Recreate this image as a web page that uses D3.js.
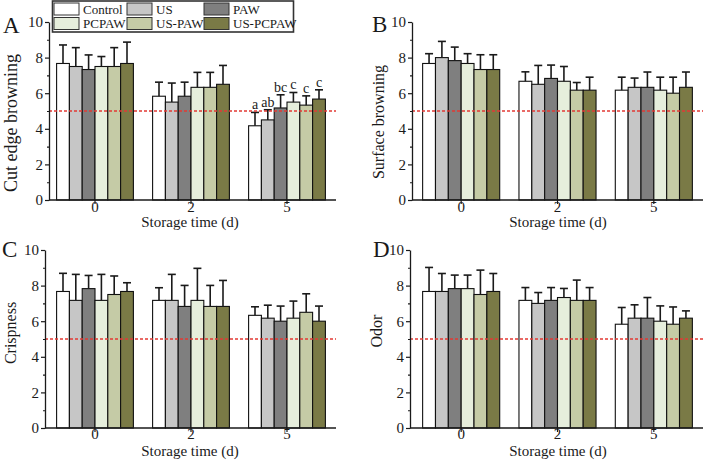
<!DOCTYPE html>
<html><head><meta charset="utf-8">
<script src="https://cdn.jsdelivr.net/npm/d3@7"></script>
<style>
body{margin:0;background:#fff}
svg{display:block}
svg text{font-family:"Liberation Serif","Times New Roman",serif !important;fill:#1a1a1a}
</style>
</head><body>
<svg id="chart" width="704" height="462"></svg>
<script>
// ---------- data ----------
const days = ["0", "2", "5"];
const treatments = ["Control", "US", "PAW", "PCPAW", "US-PAW", "US-PCPAW"];
const treatmentColors = ["#ffffff", "#c6c6c6", "#7f7f7f", "#e6eedc", "#c5cba6", "#7a7a46"];
const yTicks = [0, 2, 4, 6, 8, 10];
const yMinorTicks = [1, 3, 5, 7, 9];
const thresholdValue = 5;

// rows = storage day, columns = treatment
const cutEdgeMean = [
  [7.67, 7.50, 7.33, 7.50, 7.50, 7.67],
  [5.83, 5.50, 5.83, 6.33, 6.33, 6.50],
  [4.17, 4.50, 5.17, 5.50, 5.33, 5.67]
];
const cutEdgeSD = [
  [1.04, 1.06, 0.82, 0.56, 1.06, 1.20],
  [0.79, 1.07, 0.79, 0.84, 0.84, 1.06],
  [0.75, 0.57, 0.74, 0.54, 0.52, 0.52]
];
const cutEdgeLetters = [
  ["", "", "", "", "", ""],
  ["", "", "", "", "", ""],
  ["a", "ab", "bc", "c", "c", "c"]
];

const surfaceMean = [
  [7.67, 8.00, 7.83, 7.67, 7.33, 7.33],
  [6.67, 6.50, 6.83, 6.67, 6.17, 6.17],
  [6.17, 6.33, 6.33, 6.17, 6.00, 6.33]
];
const surfaceSD = [
  [0.55, 0.91, 0.76, 0.55, 0.83, 0.83],
  [0.53, 1.06, 0.75, 0.83, 0.43, 0.73],
  [0.73, 0.52, 0.86, 0.73, 0.90, 0.86]
];

const crispMean = [
  [7.67, 7.17, 7.83, 7.17, 7.50, 7.67],
  [7.17, 7.17, 6.83, 7.17, 6.83, 6.83],
  [6.33, 6.17, 6.00, 6.17, 6.50, 6.00]
];
const crispSD = [
  [1.02, 1.46, 0.74, 1.46, 1.04, 0.49],
  [0.71, 1.46, 1.18, 1.80, 1.18, 1.46],
  [0.48, 0.73, 0.85, 0.96, 1.04, 0.85]
];

const odorMean = [
  [7.67, 7.67, 7.83, 7.83, 7.50, 7.67],
  [7.17, 7.00, 7.17, 7.33, 7.17, 7.17],
  [5.83, 6.17, 6.17, 6.00, 5.83, 6.17]
];
const odorSD = [
  [1.35, 1.01, 0.76, 0.76, 1.37, 1.01],
  [0.72, 0.61, 0.72, 0.51, 1.14, 0.72],
  [0.94, 0.75, 1.16, 0.86, 0.97, 0.41]
];

const panelLetters = ["A", "B", "C", "D"];
const yTitles = ["Cut edge browning", "Surface browning", "Crispness", "Odor"];
const xTitle = "Storage time (d)";

// ---------- layout ----------
const SERIF = '"Liberation Serif","Times New Roman",serif';
const layouts = [
  {axisX: 49, band: [47, 335], xEnd: 336, yTop: 22, yBot: 200, lab: [3, 33], yt: [17, 123], xt: [190, 227], ytFs: 18, tickY: 12},
  {axisX: 412, band: [413, 702], xEnd: 703, yTop: 22, yBot: 200, lab: [372, 32], yt: [384, 122], xt: [558, 227], ytFs: 16, tickY: 12},
  {axisX: 45, band: [47, 335], xEnd: 336, yTop: 250, yBot: 428, lab: [2, 257], yt: [16, 333], xt: [190, 456], ytFs: 16, tickY: 11},
  {axisX: 410, band: [413, 702], xEnd: 703, yTop: 250, yBot: 428, lab: [373, 257], yt: [382, 331], xt: [558, 456], ytFs: 16, tickY: 11}
];
const panelData = [
  {mean: cutEdgeMean, sd: cutEdgeSD, letters: cutEdgeLetters},
  {mean: surfaceMean, sd: surfaceSD, letters: null},
  {mean: crispMean, sd: crispSD, letters: null},
  {mean: odorMean, sd: odorSD, letters: null}
];

const svg = d3.select("#chart");
const ink = "#1a1a1a";

function serif(sel, size) {
  return sel.style("font-family", SERIF).style("font-size", size + "px").style("fill", ink);
}

function drawPanel(i) {
  const L = layouts[i], D = panelData[i];
  const g = svg.append("g");
  const x0 = d3.scaleBand().domain(days).range(L.band).paddingInner(0.2).paddingOuter(0.1);
  const x1 = d3.scaleBand().domain(treatments).range([0, x0.bandwidth()]);
  const y = d3.scaleLinear().domain([0, 10]).range([L.yBot, L.yTop]);
  const color = d3.scaleOrdinal().domain(treatments).range(treatmentColors);

  const rows = [];
  days.forEach((d, di) => treatments.forEach((t, ti) => {
    rows.push({day: d, t, mean: D.mean[di][ti], sd: D.sd[di][ti], letter: D.letters ? D.letters[di][ti] : ""});
  }));

  // bars
  g.selectAll("rect.bar").data(rows).join("rect")
    .attr("class", "bar")
    .attr("x", d => x0(d.day) + x1(d.t))
    .attr("width", x1.bandwidth())
    .attr("y", d => y(d.mean))
    .attr("height", d => y(0) - y(d.mean))
    .attr("fill", d => color(d.t))
    .attr("stroke", "#111").attr("stroke-width", 1.1);

  // error bars (upper only)
  const cx = d => x0(d.day) + x1(d.t) + x1.bandwidth() / 2;
  g.selectAll("line.err").data(rows).join("line")
    .attr("x1", cx).attr("x2", cx)
    .attr("y1", d => y(d.mean)).attr("y2", d => y(d.mean + d.sd))
    .attr("stroke", ink).attr("stroke-width", 1.6);
  g.selectAll("line.cap").data(rows).join("line")
    .attr("x1", d => cx(d) - 4).attr("x2", d => cx(d) + 4)
    .attr("y1", d => y(d.mean + d.sd)).attr("y2", d => y(d.mean + d.sd))
    .attr("stroke", ink).attr("stroke-width", 1.6);

  // significance letters
  serif(g.selectAll("text.sig").data(rows.filter(d => d.letter)).join("text")
    .attr("x", cx).attr("y", d => y(d.mean + d.sd) - 3)
    .attr("text-anchor", "middle")
    .text(d => d.letter), 14);

  // threshold line
  g.append("line")
    .attr("x1", L.axisX).attr("x2", L.xEnd)
    .attr("y1", y(thresholdValue)).attr("y2", y(thresholdValue))
    .attr("stroke", "#e23a35").attr("stroke-width", 1.6)
    .attr("stroke-dasharray", "3,2");

  // y axis
  const ya = g.append("g").attr("transform", `translate(${L.axisX},0)`)
    .call(d3.axisLeft(y).tickValues(yTicks).tickSize(4).tickSizeOuter(0).tickPadding(2).tickFormat(d3.format("d")));
  ya.attr("font-family", null).attr("font-size", null);
  ya.select(".domain").attr("stroke", ink).attr("stroke-width", 1.3);
  ya.selectAll(".tick line").attr("stroke", ink).attr("stroke-width", 1.2);
  serif(ya.selectAll(".tick text"), 15);
  const ym = g.append("g").attr("transform", `translate(${L.axisX},0)`)
    .call(d3.axisLeft(y).tickValues(yMinorTicks).tickSize(2).tickSizeOuter(0).tickFormat(""));
  ym.select(".domain").remove();
  ym.selectAll(".tick line").attr("stroke", ink).attr("stroke-width", 1.1);

  // x axis
  const xa = g.append("g").attr("transform", `translate(0,${L.yBot})`)
    .call(d3.axisBottom(x0).tickSize(4).tickSizeOuter(0));
  xa.attr("font-family", null).attr("font-size", null);
  xa.select(".domain").remove();
  xa.selectAll(".tick line").attr("stroke", ink).attr("stroke-width", 1.2);
  serif(xa.selectAll(".tick text").attr("y", L.tickY).attr("dy", 0), 15);
  g.append("line").attr("x1", L.axisX).attr("x2", L.xEnd)
    .attr("y1", L.yBot).attr("y2", L.yBot).attr("stroke", ink).attr("stroke-width", 1.4);

  // titles
  serif(g.append("text").attr("x", L.xt[0]).attr("y", L.xt[1])
    .attr("text-anchor", "middle").text(xTitle), 15);
  serif(g.append("text").attr("transform", `translate(${L.yt[0]},${L.yt[1]}) rotate(-90)`)
    .attr("text-anchor", "middle").text(yTitles[i]), L.ytFs);
  serif(g.append("text").attr("x", L.lab[0]).attr("y", L.lab[1])
    .text(panelLetters[i]), 23);
}

[0, 1, 2, 3].forEach(drawPanel);

// ---------- legend ----------
const leg = svg.append("g");
leg.append("rect").attr("x", 52.5).attr("y", 1).attr("width", 241).attr("height", 31)
  .attr("fill", "#fff").attr("stroke", "#333").attr("stroke-width", 1.6);
const legCols = [54, 127, 204];
treatments.forEach((t, k) => {
  const col = k % 3, row = Math.floor(k / 3);
  const gx = legCols[col], gy = 3 + row * 14.5;
  leg.append("rect").attr("x", gx).attr("y", gy).attr("width", 25).attr("height", 12)
    .attr("fill", treatmentColors[k]).attr("stroke", "#333").attr("stroke-width", 1);
  serif(leg.append("text").attr("x", gx + 29).attr("y", gy + 10.5).text(t), 13);
});
</script>
</body></html>
